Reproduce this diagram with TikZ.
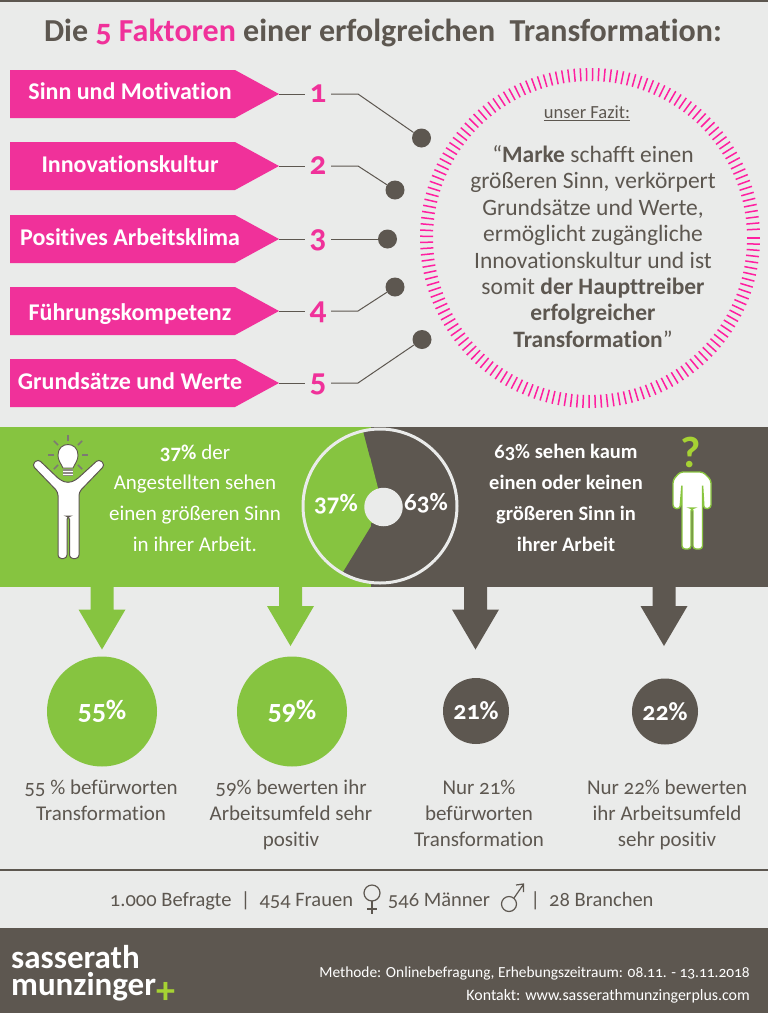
\documentclass[tikz,border=0pt]{standalone}
\usepackage{fontspec}
\setmainfont[Numbers=OldStyle,Ligatures=NoCommon]{Carlito}
\usepackage{tikz}
\usetikzlibrary{calc,positioning}
\definecolor{pagebg}{HTML}{EAEBEA}
\definecolor{darkgr}{HTML}{5D5750}
\definecolor{pinkfl}{HTML}{F0319A}
\definecolor{ringpk}{HTML}{FF1FA0}
\definecolor{greenfl}{HTML}{86C440}
\definecolor{plusgr}{HTML}{A6D233}
\newcommand{\fsz}[2]{\fontsize{#1}{#2}\selectfont}
\tikzset{
	txt/.style={inner sep=0,align=center,text=darkgr},
	wtxt/.style={txt,text=white},
	conn/.style={draw=darkgr,line width=1pt},
	enddot/.style={circle,fill=darkgr,minimum size=19,inner sep=0},
	numlab/.style={inner sep=0,minimum width=26,text height=16,text depth=0,text=pinkfl,font=\bfseries\fsz{33}{33}},
	flaglab/.style={wtxt,font=\bfseries\fsz{24}{24}},
	ringtick/.style={draw=ringpk,line width=1.5pt},
	bigdisc/.style={circle,fill=greenfl,minimum size=110,inner sep=0,text=white,font=\bfseries\fsz{28}{28}},
	smalldisc/.style={circle,fill=darkgr,minimum size=66,inner sep=0,text=white,font=\bfseries\fsz{26}{26}},
	capt/.style={txt,font=\fsz{21}{26}},
	bandtxt/.style={wtxt,font=\fsz{21}{30.8}},
	bandbold/.style={wtxt,font=\bfseries\fsz{20.5}{30.8}},
	raylin/.style={draw=darkgr!80,line width=1.6pt},
	symb/.style={draw=darkgr,line width=1.2pt}
}
\begin{document}
\begin{tikzpicture}[x=1pt,y=-1pt]
	\useasboundingbox (0,0) rectangle (768,1013);
	\fill[pagebg] (0,0) rectangle (768,1013);
	\fill[darkgr] (0,0) rectangle (768,2);
	\node (title) [txt,font=\bfseries\fsz{32}{32}] at (383,33) {Die \textcolor{pinkfl}{5 Faktoren} einer erfolgreichen\ \ Transformation:};

	% pennants with numbers
	\foreach \n/\ya/\xl/\yl/\lab in {1/94/130/91/Sinn und Motivation,2/166/130/164/Innovationskultur,3/239/130/237/Positives Arbeitsklima,4/311/130/314/Führungskompetenz,5/383/130/381/Grundsätze und Werte}{
		\fill[pinkfl] (10,\ya-24) -- (235,\ya-24) -- (279,\ya) -- (235,\ya+24) -- (10,\ya+24) -- cycle;
		\coordinate (tip\n) at (279,\ya);
		\node (flag\n) [flaglab] at (\xl,\yl) {\lab};
		\node (num\n) [numlab] at (318,\ya) {\n};
		\coordinate (bend\n) at (358,\ya);
		\draw[conn] (tip\n) -- (num\n.west);
	}
	\node (dot1) [enddot] at (421.5,138) {};
	\node (dot2) [enddot] at (395,190) {};
	\node (dot3) [enddot] at (387.5,239) {};
	\node (dot4) [enddot] at (395,287) {};
	\node (dot5) [enddot] at (422,339.5) {};
	\foreach \n in {1,2,4,5}{
		\draw[conn] (num\n.east) -- (bend\n) -- (dot\n);
	}
	\draw[conn] (num3.east) -- (dot3);

	% ring
	\coordinate (ring) at (590,238);
	\foreach \a in {0,2.1,...,358.5}{
		\draw[ringtick] ($(ring)+(\a:157)$) -- ($(ring)+(\a:170)$);
	}
	\node (fazit) [txt,font=\fsz{18.5}{18.5}] at (587,113) {\underline{unser Fazit:}};
	\node (quote) [txt,font=\fsz{23.5}{26.4}] at (593,246.5) {“\textbf{Marke} schafft einen\\größeren Sinn, verkörpert\\Grundsätze und Werte,\\ermöglicht zugängliche\\Innovationskultur und ist\\somit \textbf{der Haupttreiber}\\\textbf{erfolgreicher}\\\textbf{Transformation}”};

	% bands and pie
	\fill[greenfl] (0,427) rectangle (371,587);
	\fill[darkgr] (371,427) rectangle (768,587);
	\coordinate (pie) at (380,506);
	\begin{scope}
		\clip (pie) circle (77);
		\fill[darkgr] (362,427) -- (378,488) -- (373,523) -- (340,577) -- (340,587) -- (372,587) -- (372,427) -- cycle;
		\fill[greenfl] (370,457) -- (378,488) -- (373,523) -- (370,523) -- cycle;
	\end{scope}
	\draw[pagebg,line width=3pt] (pie) circle (77);
	\node (hole) [circle,fill=pagebg,minimum size=38.5,inner sep=0] at (383.5,507) {};
	\node (pielg) [wtxt,font=\bfseries\fsz{25}{25}] at (336,504) {37\%};
	\node (piedk) [wtxt,anchor=west,font=\bfseries\fsz{25}{25}] at (404,503) {63\%};
	\node (bandl) [bandtxt] at (195,498) {\textbf{37\%} der\\Angestellten sehen\\einen größeren Sinn\\in ihrer Arbeit.};
	\node (bandr) [bandbold] at (566,498) {63\% sehen kaum\\einen oder keinen\\größeren Sinn in\\ihrer Arbeit};

	% person with bulb
	\draw[fill=white,draw=darkgr,line width=1pt,rounded corners=3.5pt] (58,492) -- (32,465) -- (38,459) -- (60,480) -- (68,483) -- (76,480) -- (99,459) -- (105,465) -- (79,492) -- (79,558.5) -- (69.5,558.5) -- (69.5,516) -- (67,516) -- (67,558.5) -- (58,558.5) -- cycle;
	\coordinate (bulb) at (68,455);
	\foreach \a in {0,45,135,180,225,270,315}{
		\draw[raylin] ($(bulb)+(\a:14)$) -- ($(bulb)+(\a:20)$);
	}
	\draw[fill=white,draw=darkgr,line width=0.9pt] (63,468) .. controls (60,462) and (58,460) .. (58,455) .. controls (58,441) and (78,441) .. (78,455) .. controls (78,460) and (76,462) .. (73,468) -- cycle;
	\fill[darkgr!70] (63,469) rectangle (73,476);
	\draw[white,line width=0.7pt] (63,471.5) -- (73,471.5) (63,474) -- (73,474);

	% person with question mark
	\node (quest) [font=\bfseries\fsz{44}{44},text=plusgr,inner sep=0] at (691,452) {?};
	\draw[fill=white,draw=greenfl!90!plusgr,line width=1.4pt,rounded corners=3pt] (680,472) -- (703,472) -- (711,480) -- (711,508) -- (704,509) -- (702.5,484) -- (702.5,549) -- (693,549) -- (693,508) -- (691,508) -- (691,549) -- (682,549) -- (682,484) -- (680,509) -- (673,508) -- (673,480) -- cycle;

	% arrows to the discs
	\foreach \xa/\ya/\col in {102/609.5/greenfl,290.5/606/greenfl,475.5/609.5/darkgr,664/606/darkgr}{
		\fill[\col] (\xa-11.5,587) -- (\xa+11.5,587) -- (\xa+11.5,\ya) -- (\xa+23.5,\ya) -- (\xa,\ya+40) -- (\xa-23.5,\ya) -- (\xa-11.5,\ya) -- cycle;
	}
	\node (d55) [bigdisc] at (102,711.5) {55\%};
	\node (d59) [bigdisc] at (292,711.5) {59\%};
	\node (d21) [smalldisc] at (476,711) {21\%};
	\node (d22) [smalldisc] at (665,711.5) {22\%};
	\node (c55) [capt,anchor=north] at (101,780) {55 \% befürworten\\Transformation};
	\node (c59) [capt,anchor=north] at (291,780) {59\% bewerten ihr\\Arbeitsumfeld sehr\\positiv};
	\node (c21) [capt,anchor=north] at (479,780) {Nur 21\%\\befürworten\\Transformation};
	\node (c22) [capt,anchor=north] at (667,780) {Nur 22\% bewerten\\ihr Arbeitsumfeld\\sehr positiv};

	% sample line
	\fill[darkgr] (0,869) rectangle (768,871);
	\node (st1) [txt,font=\fsz{20.5}{20.5}] at (231.5,901) {1.000 Befragte\ \ |\ \ 454 Frauen};
	\node (st2) [txt,font=\fsz{20.5}{20.5}] at (439,901) {546 Männer};
	\node (st3) [txt,font=\fsz{20.5}{20.5}] at (592,901) {|\ \ 28 Branchen};
	\draw[symb] (372,893) circle (8);
	\draw[symb] (372,901) -- (372,913.5) (367,909) -- (377,909);
	\draw[symb] (509,904) circle (7.5);
	\draw[symb] (514,898) -- (523,885) (516,885) -- (523.5,884) -- (523.5,892);

	% footer
	\fill[darkgr] (0,928) rectangle (768,1013);
	\node (logo) [wtxt,anchor=base west,align=left,font=\bfseries\fsz{33}{27}] at (11,995) {sasserath\\munzinger};
	\node (plus) [inner sep=0,text=plusgr,font=\bfseries\fsz{38}{38}] at (166,993) {+};
	\node (ft1) [wtxt,anchor=base east,font=\fsz{15.4}{15.4}] at (750,977) {Methode: Onlinebefragung, Erhebungszeitraum: 08.11. - 13.11.2018};
	\node (ft2) [wtxt,anchor=base east,font=\fsz{15.9}{15.9}] at (750,1000) {Kontakt: www.sasserathmunzingerplus.com};
\end{tikzpicture}
\end{document}
